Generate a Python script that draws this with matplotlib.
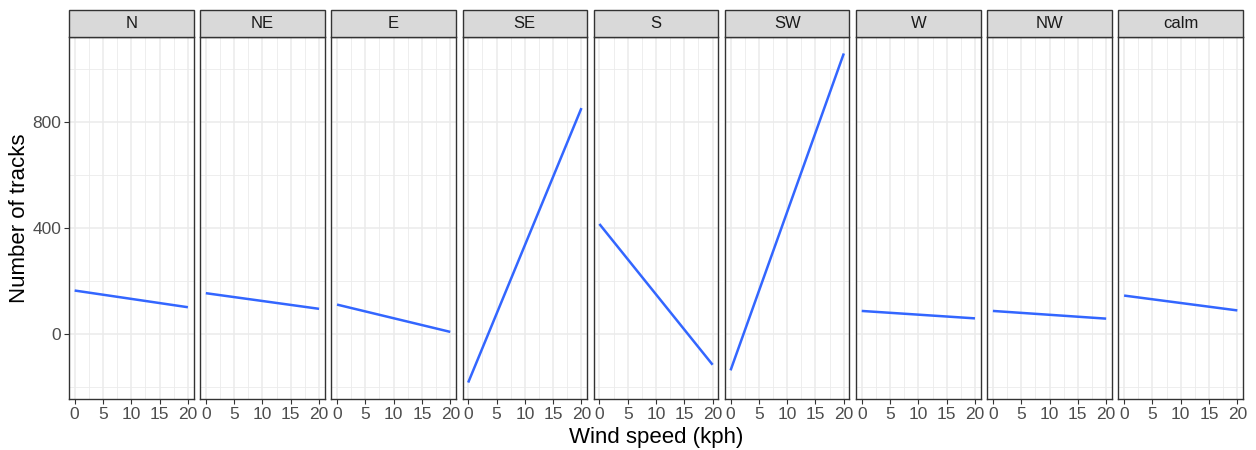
import matplotlib
matplotlib.use("Agg")
import matplotlib.pyplot as plt
from matplotlib.patches import Rectangle
import numpy as np

plt.rcParams['font.family'] = ['Liberation Sans', 'DejaVu Sans']

# ---- data (fitted linear trends) ----
directions = ["N", "NE", "E", "SE", "S", "SW", "W", "NW", "calm"]
wind_speed = [0, 20]
tracks_at_0 = [163, 153, 110, -184, 414, -138, 86, 86, 144]
tracks_at_20 = [100, 94, 7, 851, -117, 1057, 58, 57, 88]

x_major = [0, 5, 10, 15, 20]
x_minor = [2.5, 7.5, 12.5, 17.5]
y_major = [0, 400, 800]
y_minor = [-200, 200, 600, 1000]

W, H = 1256, 450
fig = plt.figure(figsize=(W / 100, H / 100), dpi=100)

left_px, right_px = 69, 1243
top_px, bottom_px = 37, 399
strip_px = 27
gap_px = 6.6
n = len(directions)
pw = (right_px - left_px - gap_px * (n - 1)) / n

all_y = tracks_at_0 + tracks_at_20
ymin, ymax = min(all_y), max(all_y)
span = ymax - ymin
ylim = (ymin - 0.05 * span, ymax + 0.05 * span)
xlim = (-1, 21)

grid_c = "#EBEBEB"
border_c = "#333333"

for i, d in enumerate(directions):
    x0 = left_px + i * (pw + gap_px)
    ax = fig.add_axes([x0 / W, 1 - bottom_px / H, pw / W, (bottom_px - top_px) / H])
    ax.set_xlim(*xlim)
    ax.set_ylim(*ylim)
    for v in x_minor:
        ax.axvline(v, color=grid_c, lw=0.6, zorder=0)
    for v in y_minor:
        ax.axhline(v, color=grid_c, lw=0.6, zorder=0)
    for v in x_major:
        ax.axvline(v, color=grid_c, lw=1.1, zorder=0)
    for v in y_major:
        ax.axhline(v, color=grid_c, lw=1.1, zorder=0)
    ax.plot(wind_speed, [tracks_at_0[i], tracks_at_20[i]], color="#3366FF",
            lw=1.8, solid_capstyle="butt", zorder=3)
    for s in ax.spines.values():
        s.set_color(border_c)
        s.set_linewidth(1.0)
    ax.set_xticks(x_major)
    ax.set_xticklabels([str(v) for v in x_major])
    ax.tick_params(axis="both", colors=border_c, length=3.5, width=0.8,
                   labelsize=12.5, labelcolor="#4D4D4D", pad=2)
    ax.set_yticks(y_major)
    if i == 0:
        ax.set_yticklabels([str(v) for v in y_major])
    else:
        ax.tick_params(axis="y", left=False, labelleft=False)
    # strip
    sh = strip_px / (bottom_px - top_px)
    ax.add_patch(Rectangle((0, 1), 1, sh, transform=ax.transAxes,
                           facecolor="#D9D9D9", edgecolor=border_c, lw=1.0,
                           clip_on=False, zorder=5))
    ax.text(0.5, 1 + sh / 2, d, transform=ax.transAxes, ha="center", va="center",
            fontsize=12, color="#1A1A1A", zorder=6)

fig.text((left_px + right_px) / 2 / W, 1 - 437 / H, "Wind speed (kph)",
         ha="center", va="center", fontsize=16, color="black")
fig.text(20 / W, 1 - (top_px + bottom_px) / 2 / H, "Number of tracks",
         ha="center", va="center", rotation=90, fontsize=16, color="black")

fig.savefig("out.png", dpi=100, facecolor="white")
